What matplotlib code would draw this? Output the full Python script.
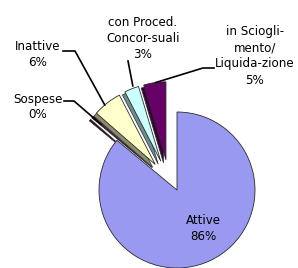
import numpy as np
import matplotlib.pyplot as plt
from matplotlib.patches import Wedge
from matplotlib.colors import to_rgb

# share of companies by status (percent)
labels = ['Attive', 'Sospese', 'Inattive', 'con Proced.\nConcor-suali',
          'in Sciogli-\nmento/\nLiquida-zione']
values = [86.0, 0.4, 6.0, 3.0, 4.6]
colors = ['#9999f2', '#5c0f33', '#ffffcc', '#ccffff', '#660066']
explode = [0.0, 0.29, 0.29, 0.29, 0.29]
group_shift = (-0.10, 0.10)   # extra shift of the small slices

W, H = 298, 268
CX, CY, R = 177, 190, 78   # pie centre / radius in pixels


def px(x, y):
    """pixel position -> data coords (pie radius = 1)"""
    return (x - CX) / R, (CY - y) / R


def darker(c, f=0.55):
    return tuple(v * f for v in to_rgb(c))


fig = plt.figure(figsize=(W / 100, H / 100), dpi=100)
ax = fig.add_axes([0, 0, 1, 1])
wedges, _ = ax.pie(values, colors=colors, explode=explode, startangle=90,
                   counterclock=False, radius=1,
                   wedgeprops=dict(edgecolor='#2a2a2a', linewidth=0.6, zorder=3))
ax.set_aspect('auto')
ax.set_xlim(-CX / R, (W - CX) / R)
ax.set_ylim(-(H - CY) / R, CY / R)
ax.axis('off')

# move the small slices as a group and give them a dark 3d side
for w, c in zip(wedges[1:], colors[1:]):
    cx, cy = w.center
    w.set_center((cx + group_shift[0], cy + group_shift[1]))
    cx, cy = w.center
    side = Wedge((cx - 2.5 / R, cy - 3 / R), w.r, w.theta1, w.theta2,
                 facecolor=darker(c), edgecolor='#2a2a2a', linewidth=0.5, zorder=2)
    ax.add_patch(side)


def edge_point(w, frac=0.5, r=1.0):
    ang = np.deg2rad(w.theta1 + (w.theta2 - w.theta1) * frac)
    cx, cy = w.center
    return cx + r * w.r * np.cos(ang), cy + r * w.r * np.sin(ang)


pct = ['{:.0f}%'.format(v) for v in values]
fs = 8.6

# Attive label inside the slice
x, y = px(203, 229)
ax.text(x, y, labels[0] + '\n' + pct[0], ha='center', va='center', fontsize=fs,
        linespacing=1.3)

# outside labels: (text centre px, leader start px, elbow px, wedge frac, radius frac)
outside = {
    1: ((38, 107), (64, 101), (74, 101), 0.5, 0.85),
    2: ((38, 54), (63, 51), (75, 51), 0.6, 1.0),
    3: ((143, 38), (128, 61), (128, 61), 0.35, 1.03),
    4: ((255, 56), (214, 68), (203, 68), 0.45, 1.0),
}
for i, (tpos, start, elbow, frac, rr) in outside.items():
    tx, ty = px(*tpos)
    ax.text(tx, ty, labels[i] + '\n' + pct[i], ha='center', va='center',
            fontsize=fs, linespacing=1.3)
    ex, ey = edge_point(wedges[i], frac, rr)
    sx, sy = px(*start)
    bx, by = px(*elbow)
    ax.plot([sx, bx, ex], [sy, by, ey], color='black', lw=1.2, clip_on=False,
            zorder=4)

fig.savefig('out.png', dpi=100)
